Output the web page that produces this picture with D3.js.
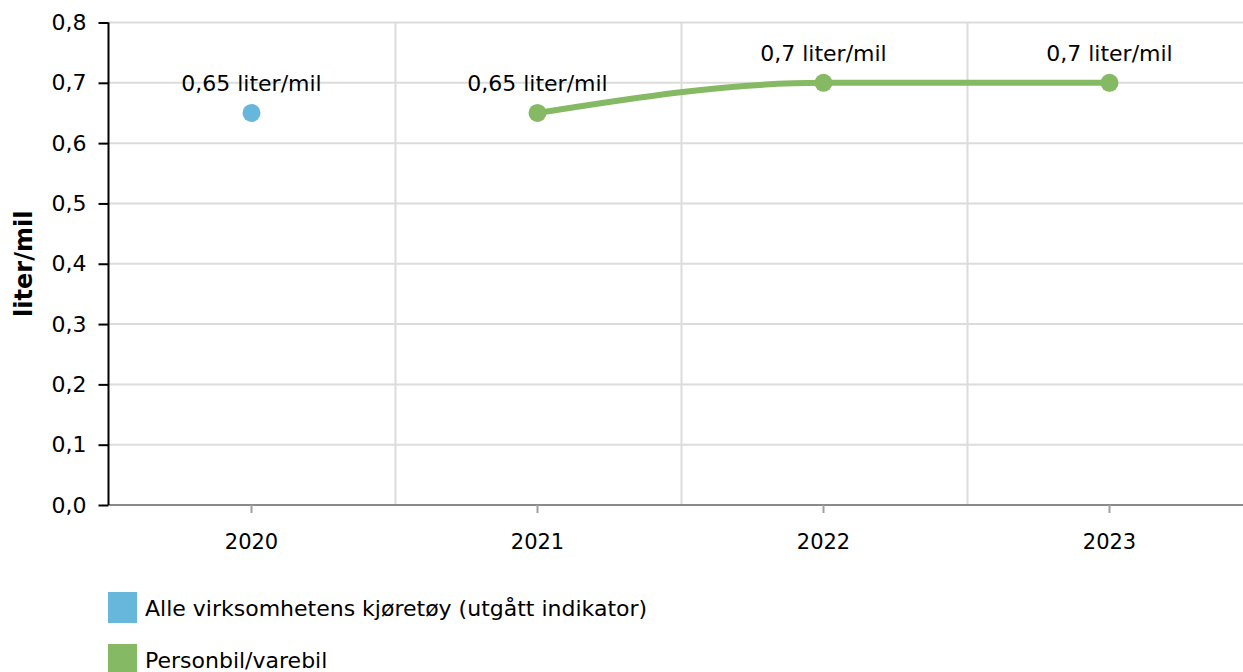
<!DOCTYPE html>
<html><head><meta charset="utf-8">
<script src="https://cdn.jsdelivr.net/npm/d3@7"></script>
<style>body{margin:0;background:#fff;overflow:hidden}svg{display:block;font-family:"DejaVu Sans",Verdana,sans-serif}</style>
</head><body><svg id="c" width="1243" height="672"></svg>
<script>
const categories = ["2020","2021","2022","2023"];
const seriesNames = ["Alle virksomhetens kjøretøy (utgått indikator)","Personbil/varebil"];
const seriesAll = [0.65, null, null, null];
const seriesPersonbil = [null, 0.65, 0.70, 0.70];
const labelsAll = ["0,65 liter/mil", null, null, null];
const labelsPersonbil = [null, "0,65 liter/mil", "0,7 liter/mil", "0,7 liter/mil"];
const yTicks = [0,0.1,0.2,0.3,0.4,0.5,0.6,0.7,0.8];
const yTitle = "liter/mil";
const colors = ["#67b7dc","#86b963"];

const svg = d3.select("#c");
const pL = 108.5, pR = 1252.5, pT = 22.5, pB = 505;
const x = d3.scaleBand().domain(categories).range([pL, pR]);
const y = d3.scaleLinear().domain([0,0.8]).range([pB, pT]);
const fmt = d => d3.format(".1f")(d).replace(".", ",");

// horizontal grid
svg.append("g").selectAll("line").data(yTicks).join("line")
  .attr("x1", pL).attr("x2", pR).attr("y1", d=>y(d)).attr("y2", d=>y(d))
  .attr("stroke", "#dcdcdc").attr("stroke-width", 2);
// vertical grid at band edges
svg.append("g").selectAll("line").data(categories.slice(1)).join("line")
  .attr("x1", d=>Math.round(x(d))+0.5).attr("x2", d=>Math.round(x(d))+0.5).attr("y1", pT).attr("y2", pB)
  .attr("stroke", "#dcdcdc").attr("stroke-width", 2);

// x axis
const xa = svg.append("g").attr("transform", `translate(0,${pB})`)
  .call(d3.axisBottom(x).tickSize(8).tickPadding(21));
xa.select(".domain").attr("stroke", "#8a8a8a").attr("stroke-width", 2).attr("d", `M${pL},0H${pR}`);
xa.selectAll(".tick line").attr("stroke", "#a0a0a0").attr("stroke-width", 2);
xa.selectAll(".tick text").attr("font-size", 21).attr("fill", "#000").attr("font-family", "DejaVu Sans");

// y axis
const ya = svg.append("g").attr("transform", `translate(${pL},0)`)
  .call(d3.axisLeft(y).tickValues(yTicks).tickFormat(fmt).tickSize(10).tickPadding(12));
ya.select(".domain").attr("stroke", "#000").attr("stroke-width", 2).attr("d", `M0,${pT}V${pB}`);
ya.selectAll(".tick line").attr("stroke", "#000").attr("stroke-width", 2);
ya.selectAll(".tick text").attr("font-size", 22).attr("fill", "#000").attr("font-family", "DejaVu Sans");

svg.append("text").attr("transform", `translate(32,${(pT+pB)/2}) rotate(-90)`)
  .attr("text-anchor", "middle").attr("font-size", 24).attr("font-weight", "bold").text(yTitle);

// green line
const pts = categories.map((c,i)=>({c, v: seriesPersonbil[i], l: labelsPersonbil[i]})).filter(d=>d.v!=null);
const line = d3.line().x(d=>x(d.c)+x.bandwidth()/2).y(d=>y(d.v)).curve(d3.curveMonotoneX);
svg.append("path").datum(pts).attr("d", line).attr("fill", "none")
  .attr("stroke", colors[1]).attr("stroke-width", 6).attr("stroke-linecap", "round");
svg.append("g").selectAll("circle").data(pts).join("circle")
  .attr("cx", d=>x(d.c)+x.bandwidth()/2).attr("cy", d=>y(d.v)).attr("r", 9).attr("fill", colors[1]);
svg.append("g").selectAll("text").data(pts).join("text")
  .attr("x", d=>x(d.c)+x.bandwidth()/2).attr("y", d=>y(d.v)-22).attr("text-anchor","middle")
  .attr("font-size", 22).text(d=>d.l);

// blue point
const bpts = categories.map((c,i)=>({c, v: seriesAll[i], l: labelsAll[i]})).filter(d=>d.v!=null);
svg.append("g").selectAll("circle").data(bpts).join("circle")
  .attr("cx", d=>x(d.c)+x.bandwidth()/2).attr("cy", d=>y(d.v)).attr("r", 9).attr("fill", colors[0]);
svg.append("g").selectAll("text").data(bpts).join("text")
  .attr("x", d=>x(d.c)+x.bandwidth()/2).attr("y", d=>y(d.v)-22).attr("text-anchor","middle")
  .attr("font-size", 22).text(d=>d.l);

// legend
const lg = svg.append("g").selectAll("g").data(seriesNames).join("g")
  .attr("transform", (d,i)=>`translate(108,${592 + i*52})`);
lg.append("rect").attr("width", 29).attr("height", 31).attr("fill", (d,i)=>colors[i]);
lg.append("text").attr("x", 37).attr("y", 24).attr("font-size", 22).text(d=>d);
</script></body></html>
